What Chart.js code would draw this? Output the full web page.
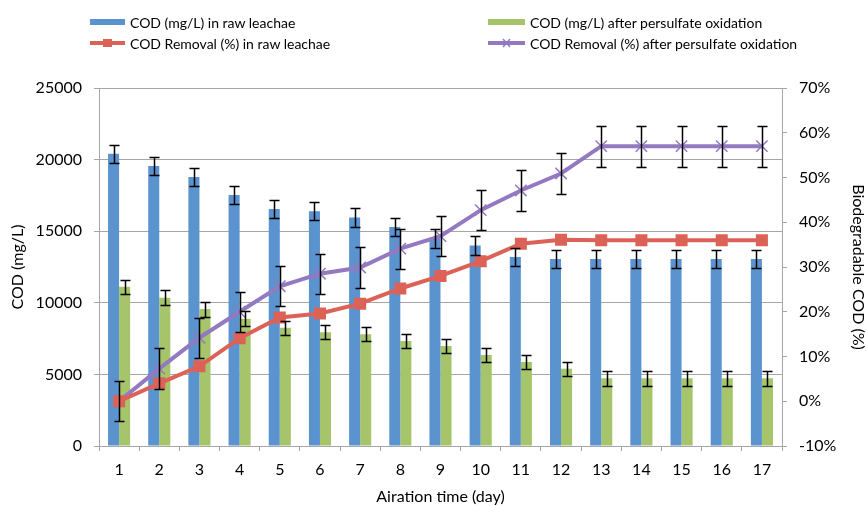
<!DOCTYPE html>
<html>
<head>
<meta charset="utf-8">
<script src="https://cdn.jsdelivr.net/npm/chart.js@4.4.1/dist/chart.umd.min.js"></script>
<style>
  html, body { margin: 0; padding: 0; background: #fff; }
  #wrap { position: relative; width: 866px; height: 506px; }
  #legend { position: absolute; left: 0; top: 0; width: 866px; height: 60px;
            font-family: Lato, sans-serif; font-size: 14px; color: #000; }
  .item { position: absolute; display: flex; align-items: center; height: 20px; white-space: nowrap; }
  .item svg { margin-right: 5px; }
</style>
</head>
<body>
<div id="wrap">
  <canvas id="chart" width="866" height="506"></canvas>
  <div id="legend">
    <div class="item" style="left:90px;top:12px">
      <svg width="35" height="8"><rect x="0" y="1" width="35" height="6" fill="#5b93cf"/></svg>COD (mg/L) in raw leachae
    </div>
    <div class="item" style="left:488px;top:12px">
      <svg width="37" height="8"><rect x="0" y="1" width="37" height="6" fill="#a6c46a"/></svg>COD (mg/L) after persulfate oxidation
    </div>
    <div class="item" style="left:90px;top:33px">
      <svg width="35" height="12"><line x1="0" y1="6" x2="35" y2="6" stroke="#dc6258" stroke-width="4"/><rect x="13" y="2" width="9" height="8" fill="#dc6258"/></svg>COD Removal (%) in raw leachae
    </div>
    <div class="item" style="left:488px;top:33px">
      <svg width="37" height="12"><line x1="0" y1="6" x2="37" y2="6" stroke="#9379c0" stroke-width="4"/><path d="M15 2 L22 10 M22 2 L15 10" stroke="#9379c0" stroke-width="1.5"/></svg>COD Removal (%) after persulfate oxidation
    </div>
  </div>
</div>
<script>
// --- data ---
const days = ['1', '2', '3', '4', '5', '6', '7', '8', '9', '10', '11', '12', '13', '14', '15', '16', '17'];

const codRaw      = [20400, 19550, 18780, 17530, 16550, 16400, 15950, 15300, 14500, 14000, 13200, 13050, 13050, 13050, 13050, 13050, 13050];
const codRawErr   = [650, 650, 650, 650, 650, 650, 650, 650, 650, 650, 650, 650, 650, 650, 650, 650, 650];

const codOxid     = [11120, 10360, 9560, 8890, 8260, 7950, 7800, 7330, 6980, 6350, 5870, 5400, 4730, 4730, 4730, 4730, 4730];
const codOxidErr  = [500, 520, 520, 520, 500, 500, 500, 500, 500, 500, 500, 500, 520, 520, 520, 520, 520];

const removalRaw  = [0, 4, 7.8, 14.1, 18.7, 19.6, 21.8, 25.2, 28, 31.3, 35.2, 36.1, 36, 36, 36, 36, 36];

const removalOxid    = [0, 7.3, 14.2, 20, 25.7, 28.5, 29.9, 34.1, 36.9, 42.7, 47.1, 50.9, 57, 57, 57, 57, 57];
const removalOxidErr = [4.5, 4.5, 4.5, 4.5, 4.5, 4.5, 4.5, 4.5, 4.5, 4.5, 4.5, 4.5, 4.6, 4.6, 4.6, 4.6, 4.6];

const BLUE = '#5b93cf';
const GREEN = '#a6c46a';
const RED = '#dc6258';
const PURPLE = '#9379c0';
const GRID = '#a6a6a6';
const FONT = 'Lato';

// --- error bars drawn on top through the dataset's own scale ---
const errorBars = {
    id: 'errorBars',
    afterDatasetsDraw(chart) {
        const ctx = chart.ctx;
        chart.data.datasets.forEach((ds, i) => {
            if (!ds.errors) return;
            const meta = chart.getDatasetMeta(i);
            const scale = chart.scales[meta.yAxisID];
            ctx.save();
            ctx.strokeStyle = '#000';
            ctx.lineWidth = 1.5;
            meta.data.forEach((el, j) => {
                const v = ds.data[j];
                const e = ds.errors[j];
                const top = Math.round(scale.getPixelForValue(v + e)) + 0.5;
                const bot = Math.round(scale.getPixelForValue(v - e)) + 0.5;
                const x = Math.round(el.x) + 0.5;
                ctx.beginPath();
                ctx.moveTo(x, top); ctx.lineTo(x, bot);
                ctx.moveTo(x - 5, top); ctx.lineTo(x + 5, top);
                ctx.moveTo(x - 5, bot); ctx.lineTo(x + 5, bot);
                ctx.stroke();
            });
            ctx.restore();
        });
    }
};

Chart.defaults.font.family = FONT;
Chart.defaults.font.size = 16;
Chart.defaults.color = '#000';

new Chart(document.getElementById('chart').getContext('2d'), {
    data: {
        labels: days,
        datasets: [
            {
                type: 'line',
                label: 'COD Removal (%) in raw leachae',
                data: removalRaw,
                yAxisID: 'y1',
                borderColor: RED,
                backgroundColor: RED,
                borderWidth: 4,
                pointStyle: 'rect',
                pointRadius: 8.5,
                pointBorderWidth: 0,
                order: 0
            },
            {
                type: 'line',
                label: 'COD Removal (%) after persulfate oxidation',
                data: removalOxid,
                errors: removalOxidErr,
                yAxisID: 'y1',
                borderColor: PURPLE,
                backgroundColor: PURPLE,
                borderWidth: 4,
                pointStyle: 'crossRot',
                pointRadius: 8,
                pointBorderWidth: 1.5,
                order: 0
            },
            {
                type: 'bar',
                label: 'COD (mg/L) in raw leachae',
                data: codRaw,
                errors: codRawErr,
                yAxisID: 'y',
                backgroundColor: BLUE,
                barPercentage: 1,
                categoryPercentage: 0.55,
                order: 1
            },
            {
                type: 'bar',
                label: 'COD (mg/L) after persulfate oxidation',
                data: codOxid,
                errors: codOxidErr,
                yAxisID: 'y',
                backgroundColor: GREEN,
                barPercentage: 1,
                categoryPercentage: 0.55,
                order: 1
            }
        ]
    },
    options: {
        responsive: false,
        animation: false,
        layout: { padding: { top: 88, left: 0, right: 0, bottom: 0 } },
        plugins: {
            legend: { display: false },
            tooltip: { enabled: false }
        },
        scales: {
            x: {
                afterFit: s => { s.height = 60; },
                grid: { offset: true, drawOnChartArea: false, color: GRID, tickLength: 5 },
                border: { color: GRID },
                ticks: { padding: 9, font: { size: 16 } },
                title: { display: true, text: 'Airation time (day)', font: { size: 16, lineHeight: 1 }, padding: { top: 0, bottom: 1 } }
            },
            y: {
                position: 'left',
                min: 0,
                max: 25000,
                afterFit: s => { s.width = 99; },
                grid: { color: GRID, tickLength: 5 },
                border: { color: GRID },
                ticks: { stepSize: 5000, padding: 12, font: { size: 16 }, callback: v => String(v) },
                title: { display: true, text: 'COD (mg/L)', font: { size: 16, lineHeight: 1 }, padding: { top: 10, bottom: 0 } }
            },
            y1: {
                position: 'right',
                min: -10,
                max: 70,
                afterFit: s => { s.width = 84; },
                grid: { drawOnChartArea: false, color: GRID, tickLength: 5 },
                border: { color: GRID },
                ticks: { stepSize: 10, padding: 12, font: { size: 16 }, callback: v => v + '%' },
                title: { display: true, text: 'Biodegradable COD (%)', font: { size: 16, lineHeight: 1 }, padding: { top: 0, bottom: 0 } }
            }
        }
    },
    plugins: [errorBars]
});
</script>
</body>
</html>
